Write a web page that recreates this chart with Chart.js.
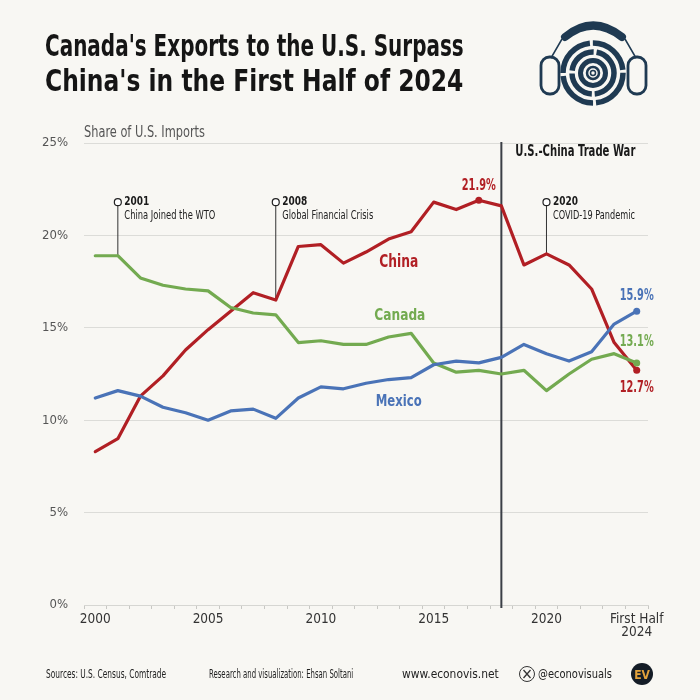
<!DOCTYPE html>
<html><head><meta charset="utf-8">
<script src="https://cdn.jsdelivr.net/npm/chart.js@4.4.1/dist/chart.umd.min.js"></script>
<style>
html,body{margin:0;padding:0;background:#f8f7f3;}
#wrap{position:relative;width:700px;height:700px;overflow:hidden;background:#f8f7f3;font-family:"DejaVu Sans Condensed","Liberation Sans Narrow",sans-serif;}
#box{position:absolute;left:0;top:0;width:700px;height:700px;}
.fit{position:absolute;white-space:nowrap;transform-origin:0 50%;line-height:1;}
.title{font-weight:bold;font-size:30px;color:#151515;}
.foot{font-size:12px;color:#222;}
</style></head>
<body><div id="wrap">
<div id="box"><canvas id="c" width="700" height="700"></canvas></div>
<div class="fit title" id="t1" data-w="419" style="left:45px;top:31px;">Canada's Exports to the U.S. Surpass</div>
<div class="fit title" id="t2" data-w="418" style="left:45px;top:66px;">China's in the First Half of 2024</div>
<svg style="position:absolute;left:535px;top:14px" width="120" height="94" viewBox="535 14 120 94">
  <g fill="none" stroke="#1f3a52">
    <path d="M565,37 Q593,14 622,37" stroke-width="8" stroke-linecap="round"/>
    <path d="M562,39 L551,58 M625,39 L636,58" stroke-width="1.5"/>
    <rect x="541" y="57" width="18" height="37" rx="8.5" stroke-width="2.8"/>
    <rect x="628" y="57" width="18" height="37" rx="8.5" stroke-width="2.8"/>
    <circle cx="593" cy="73" r="30" stroke-width="5.5" stroke-dasharray="44 3"/>
    <circle cx="593" cy="73" r="21" stroke-width="5.5" stroke-dasharray="31 3"/>
    <circle cx="593" cy="73" r="12.5" stroke-width="5"/>
    <circle cx="593" cy="73" r="6" stroke-width="2.5"/>
    <circle cx="593" cy="73" r="2.5" stroke-width="1.5"/>
  </g>
</svg>
<div class="fit foot" data-w="120" style="left:46px;top:668px;">Sources: U.S. Census, Comtrade</div>
<div class="fit foot" data-w="144" style="left:209px;top:668px;">Research and visualization: Ehsan Soltani</div>
<div class="fit foot" data-w="97" style="left:402px;top:667px;font-family:'DejaVu Sans',sans-serif;font-size:13px;">www.econovis.net</div>
<svg style="position:absolute;left:518px;top:665px" width="18" height="18" viewBox="0 0 18 18">
  <circle cx="9" cy="9" r="7.5" fill="none" stroke="#333" stroke-width="1"/>
  <path d="M5.5,5 L12.5,13 M12.5,5 L5.5,13" stroke="#333" stroke-width="1.3"/>
</svg>
<div class="fit foot" data-w="74" style="left:538px;top:667px;font-family:'DejaVu Sans',sans-serif;font-size:13px;">@econovisuals</div>
<svg style="position:absolute;left:630px;top:662px" width="24" height="24" viewBox="0 0 24 24">
  <circle cx="12" cy="12" r="11" fill="#141c26"/>
  <text x="12" y="16.5" text-anchor="middle" font-family="DejaVu Sans Condensed, sans-serif" font-weight="bold" font-size="12" fill="#e3a23b">EV</text>
</svg>
</div>
<script>
const years = ['2000','2001','2002','2003','2004','2005','2006','2007','2008','2009','2010','2011','2012','2013','2014','2015','2016','2017','2018','2019','2020','2021','2022','2023','2024'];
const shownYears = ['2000','2005','2010','2015','2020'];
const lastLabel = ['First Half','2024'];
const china  = [8.3, 9.0, 11.3, 12.4, 13.8, 14.9, 15.9, 16.9, 16.5, 19.4, 19.5, 18.5, 19.1, 19.8, 20.2, 21.8, 21.4, 21.9, 21.6, 18.4, 19.0, 18.4, 17.1, 14.2, 12.7];
const canada = [18.9, 18.9, 17.7, 17.3, 17.1, 17.0, 16.1, 15.8, 15.7, 14.2, 14.3, 14.1, 14.1, 14.5, 14.7, 13.1, 12.6, 12.7, 12.5, 12.7, 11.6, 12.5, 13.3, 13.6, 13.1];
const mexico = [11.2, 11.6, 11.3, 10.7, 10.4, 10.0, 10.5, 10.6, 10.1, 11.2, 11.8, 11.7, 12.0, 12.2, 12.3, 13.0, 13.2, 13.1, 13.4, 14.1, 13.6, 13.2, 13.7, 15.2, 15.9];
const yTicks = [0, 5, 10, 15, 20, 25];
const tradeWarYear = '2018';
const events = [
  {year:'2001', on:'canada', title:'2001', sub:'China Joined the WTO', w:91},
  {year:'2008', on:'china',  title:'2008', sub:'Global Financial Crisis', w:91},
  {year:'2020', on:'china',  title:'2020', sub:'COVID-19 Pandemic', w:82}
];
const eventTop = 21.8;

const RED='#b11f24', GREEN='#73aa50', BLUE='#4a73b7';
const NARROW='"DejaVu Sans Condensed","Liberation Sans Narrow",sans-serif';
const seriesMap = {china, canada, mexico};

document.querySelectorAll('.fit').forEach(el=>{
  const w = +el.dataset.w; const nat = el.scrollWidth;
  el.style.transform = 'scaleX(' + (w/nat) + ')';
});

function drawFit(ctx, text, x, y, w){
  const nat = ctx.measureText(text).width;
  const k = Math.min(1, w/nat);
  ctx.save(); ctx.translate(x, y); ctx.scale(k, 1); ctx.fillText(text, 0, 0); ctx.restore();
}

function radiusFor(name){
  return ctx => {
    const i = ctx.dataIndex;
    if (i === years.length-1) return 3.5;
    if (name==='china' && years[i]==='2017') return 3.5;
    return 0;
  };
}

const annot = {
  id:'annot',
  beforeDatasetsDraw(chart){
    const {ctx, scales:{x,y}} = chart;
    ctx.save();
    const tx = x.getPixelForValue(years.indexOf(tradeWarYear));
    ctx.strokeStyle='#3b3f46'; ctx.lineWidth=2;
    ctx.beginPath(); ctx.moveTo(tx, y.getPixelForValue(25)-1); ctx.lineTo(tx, y.getPixelForValue(0)+3); ctx.stroke();
    events.forEach(ev=>{
      const i = years.indexOf(ev.year);
      const px = x.getPixelForValue(i);
      const top = y.getPixelForValue(eventTop);
      const bot = y.getPixelForValue(seriesMap[ev.on][i]);
      ctx.strokeStyle='#333'; ctx.lineWidth=1;
      ctx.beginPath(); ctx.moveTo(px, top+3.5); ctx.lineTo(px, bot); ctx.stroke();
    });
    ctx.restore();
  },
  afterDatasetsDraw(chart){
    const {ctx, scales:{x,y}} = chart;
    ctx.save();
    events.forEach(ev=>{
      const i = years.indexOf(ev.year);
      const px = x.getPixelForValue(i);
      const top = y.getPixelForValue(eventTop);
      ctx.beginPath(); ctx.arc(px, top, 3.5, 0, Math.PI*2);
      ctx.fillStyle='#fff'; ctx.fill(); ctx.strokeStyle='#222'; ctx.lineWidth=1.2; ctx.stroke();
      ctx.textAlign='left'; ctx.textBaseline='middle';
      ctx.fillStyle='#1a1a1a'; ctx.font='bold 12.5px '+NARROW;
      drawFit(ctx, ev.title, px+6.5, top, 25);
      ctx.fillStyle='#222'; ctx.font='12px '+NARROW;
      drawFit(ctx, ev.sub, px+6.5, top+14, ev.w);
    });
    const tx = x.getPixelForValue(years.indexOf(tradeWarYear));
    ctx.textAlign='left'; ctx.textBaseline='middle';
    ctx.fillStyle='#1a1a1a'; ctx.font='bold 15px '+NARROW;
    drawFit(ctx, 'U.S.-China Trade War', tx+14, y.getPixelForValue(25)+9, 120);
    ctx.textAlign='center';
    ctx.font='bold 17.5px '+NARROW; ctx.fillStyle=RED;
    drawFit(ctx, 'China', x.getPixelForValue(13.45), y.getPixelForValue(18.55), 39);
    ctx.font='bold 16.5px '+NARROW; ctx.fillStyle=GREEN;
    drawFit(ctx, 'Canada', x.getPixelForValue(13.5), y.getPixelForValue(15.68), 51);
    ctx.fillStyle=BLUE;
    drawFit(ctx, 'Mexico', x.getPixelForValue(13.45), y.getPixelForValue(11.0), 46);
    const last = years.length-1;
    const lx = x.getPixelForValue(last);
    ctx.font='bold 15px '+NARROW;
    ctx.fillStyle=RED;
    const pk = years.indexOf('2017');
    drawFit(ctx, china[pk].toFixed(1)+'%', x.getPixelForValue(pk), y.getPixelForValue(china[pk])-14, 34);
    ctx.fillStyle=BLUE;
    drawFit(ctx, mexico[last].toFixed(1)+'%', lx, y.getPixelForValue(mexico[last])-15, 34);
    ctx.fillStyle=GREEN;
    drawFit(ctx, canada[last].toFixed(1)+'%', lx, y.getPixelForValue(canada[last])-21, 34);
    ctx.fillStyle=RED;
    drawFit(ctx, china[last].toFixed(1)+'%', lx, y.getPixelForValue(china[last])+18, 34);
    ctx.textAlign='left'; ctx.fillStyle='#555'; ctx.font='15px '+NARROW;
    drawFit(ctx, 'Share of U.S. Imports', chart.chartArea.left, y.getPixelForValue(25)-10, 121);
    ctx.restore();
  }
};

const mk = (label, data, color, name) => ({
  label, data, borderColor:color, backgroundColor:color, borderWidth:3.2,
  pointRadius:radiusFor(name), pointBackgroundColor:color, pointBorderWidth:0,
  tension:0, borderJoinStyle:'round', borderCapStyle:'round'
});

new Chart(document.getElementById('c'), {
  type:'line',
  data:{ labels: years, datasets:[
    mk('Mexico', mexico, BLUE, 'mexico'),
    mk('Canada', canada, GREEN, 'canada'),
    mk('China', china, RED, 'china')
  ]},
  options:{
    responsive:false, animation:false,
    layout:{padding:{top:143, right:52, bottom:0, left:0}},
    plugins:{legend:{display:false}, tooltip:{enabled:false}},
    scales:{
      x:{
        type:'category', offset:true,
        grid:{offset:true, drawOnChartArea:false, drawTicks:true, tickLength:4, color:'#c8c8c4'},
        border:{display:true, color:'#d6d6d2', width:1},
        ticks:{autoSkip:false, maxRotation:0, color:'#333', padding:4,
          font:{family:NARROW, size:13.5, lineHeight:0.95},
          callback:(v,i)=> i===years.length-1 ? lastLabel : (shownYears.includes(years[i]) ? years[i] : '')},
        afterFit(s){ s.height = 95; }
      },
      y:{
        min:0, max:25,
        afterBuildTicks(s){ s.ticks = yTicks.map(v=>({value:v})); },
        grid:{color:'#dcdcd8', lineWidth:1, drawTicks:false},
        border:{display:false},
        ticks:{color:'#555', padding:16, font:{family:NARROW, size:13}, callback:v=>v+'%'},
        afterFit(s){ s.width = 84; }
      }
    }
  },
  plugins:[annot]
});
</script>
</body></html>
